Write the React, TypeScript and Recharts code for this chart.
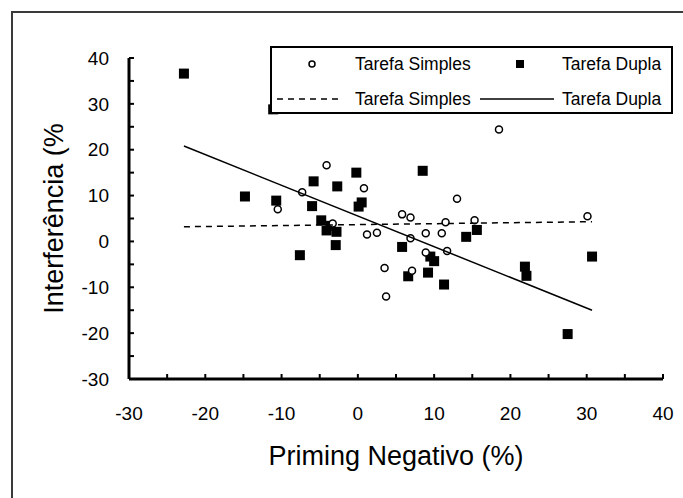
import { ScatterChart, Scatter, XAxis, YAxis, Legend, Label } from "recharts";

const FONT = '"Liberation Sans", Arial, sans-serif';

const xTicks = [-30, -25, -20, -15, -10, -5, 0, 5, 10, 15, 20, 25, 30, 35, 40];
const yTicks = [-30, -25, -20, -15, -10, -5, 0, 5, 10, 15, 20, 25, 30, 35, 40];

// Tarefa Simples (open circles)
const simplesX = [-10.5, -7.3, -4.1, -3.3, 0.8, 1.2, 2.5, 3.5, 3.7, 5.8, 6.9, 6.9, 7.1, 8.9, 8.9, 11.0, 11.5, 11.7, 13.0, 15.3, 18.5, 30.1];
const simplesY = [7.0, 10.7, 16.6, 3.9, 11.6, 1.5, 1.9, -5.8, -12.0, 5.9, 5.2, 0.7, -6.4, 1.8, -2.4, 1.8, 4.2, -2.1, 9.3, 4.6, 24.4, 5.5];

// Tarefa Dupla (filled squares)
const duplaX = [-22.8, -11.1, -14.8, -10.7, -7.6, -5.8, -6.0, -4.8, -4.1, -3.6, -2.7, -2.8, -2.9, -0.2, 0.5, 0.1, 8.5, 5.8, 6.6, 9.2, 9.5, 10.0, 11.3, 14.2, 15.6, 21.9, 22.1, 27.5, 30.7];
const duplaY = [36.6, 28.8, 9.8, 8.9, -3.0, 13.1, 7.7, 4.6, 2.4, 3.4, 12.0, 2.1, -0.8, 15.0, 8.5, 7.6, 15.4, -1.2, -7.6, -6.8, -3.3, -4.3, -9.4, 1.0, 2.5, -5.5, -7.5, -20.2, -3.3];

// trend lines (end points)
const trendX = [-22.8, 30.7];
const simplesTrendY = [3.2, 4.3];
const duplaTrendY = [20.8, -15.0];

const toPoints = (xs: number[], ys: number[]) => xs.map((x, i) => ({ x, y: ys[i] }));

const simplesData = toPoints(simplesX, simplesY);
const duplaData = toPoints(duplaX, duplaY);
const simplesTrend = toPoints(trendX, simplesTrendY);
const duplaTrend = toPoints(trendX, duplaTrendY);

const OpenCircle = (props: any) => (
  <circle cx={props.cx} cy={props.cy} r={3.5} fill="#fff" stroke="#000" strokeWidth={1.5} />
);

const FilledSquare = (props: any) => (
  <rect x={props.cx - 5} y={props.cy - 5} width={10} height={10} fill="#000" />
);

const NoShape = () => <g />;

const LegendBox = () => (
  <div
    style={{
      width: 403,
      height: 68,
      boxSizing: "border-box",
      border: "2px solid #000",
      background: "#fff",
    }}
  >
    <svg width={399} height={64} style={{ display: "block" }}>
      <g fontFamily={FONT} fontSize={17.5} fill="#000">
        <circle cx={40} cy={16} r={3} fill="#fff" stroke="#000" strokeWidth={1.5} />
        <text x={83} y={22}>Tarefa Simples</text>
        <rect x={244} y={12} width={8} height={8} fill="#000" />
        <text x={290} y={22}>Tarefa Dupla</text>
        <line x1={5} y1={51} x2={68} y2={51} stroke="#000" strokeWidth={1.5} strokeDasharray="6 5" />
        <text x={83} y={57}>Tarefa Simples</text>
        <line x1={208} y1={51} x2={282} y2={51} stroke="#000" strokeWidth={1.5} />
        <text x={290} y={57}>Tarefa Dupla</text>
      </g>
    </svg>
  </div>
);

export default function App() {
  return (
    <div style={{ position: "absolute", left: 0, top: 0, width: 683, height: 498, background: "#fff", overflow: "hidden" }}>
      <div
        style={{
          position: "absolute",
          left: 11,
          top: 11,
          width: 700,
          height: 500,
          borderTop: "2px solid #3a3a3a",
          borderLeft: "2px solid #3a3a3a",
        }}
      />
      <ScatterChart
        width={683}
        height={498}
        margin={{ top: 58, right: 20, bottom: 9, left: 20 }}
        style={{ position: "absolute", left: 0, top: 0, fontFamily: FONT }}
      >
        <XAxis
          type="number"
          dataKey="x"
          domain={[-30, 40]}
          ticks={xTicks}
          interval={0}
          allowDataOverflow
          height={110}
          axisLine={{ stroke: "#000", strokeWidth: 3 }}
          tickLine={{ stroke: "#000", strokeWidth: 2 }}
          tickSize={-5}
          tickMargin={33}
          tick={{ fill: "#000", fontSize: 19, fontFamily: FONT }}
          tickFormatter={(v: number) => (v % 10 === 0 ? String(v) : "")}
        >
          <Label value="Priming Negativo (%)" position="center" dy={21} fill="#000" fontSize={27} fontFamily={FONT} />
        </XAxis>
        <YAxis
          type="number"
          dataKey="y"
          domain={[-30, 40]}
          ticks={yTicks}
          interval={0}
          allowDataOverflow
          width={109}
          axisLine={{ stroke: "#000", strokeWidth: 3 }}
          tickLine={{ stroke: "#000", strokeWidth: 2 }}
          tickSize={-5}
          tickMargin={25}
          tick={{ fill: "#000", fontSize: 19, fontFamily: FONT }}
          tickFormatter={(v: number) => (v % 10 === 0 ? String(v) : "")}
        >
          <Label value="Interferência (%" position="center" angle={-90} dx={-21} fill="#000" fontSize={27} fontFamily={FONT} />
        </YAxis>
        <Scatter name="Tarefa Dupla" data={duplaData} shape={FilledSquare} isAnimationActive={false} />
        <Scatter name="Tarefa Simples" data={simplesData} shape={OpenCircle} isAnimationActive={false} />
        <Scatter
          name="Tarefa Simples (linha)"
          data={simplesTrend}
          shape={NoShape}
          line={{ stroke: "#000", strokeWidth: 1.5, strokeDasharray: "6 5" }}
          lineType="joint"
          isAnimationActive={false}
        />
        <Scatter
          name="Tarefa Dupla (linha)"
          data={duplaTrend}
          shape={NoShape}
          line={{ stroke: "#000", strokeWidth: 1.5 }}
          lineType="joint"
          isAnimationActive={false}
        />
        <Legend
          layout="horizontal"
          verticalAlign="middle"
          align="center"
          content={() => <LegendBox />}
          wrapperStyle={{ position: "absolute", left: 270, top: 46, width: 403, height: 68 }}
        />
      </ScatterChart>
    </div>
  );
}
